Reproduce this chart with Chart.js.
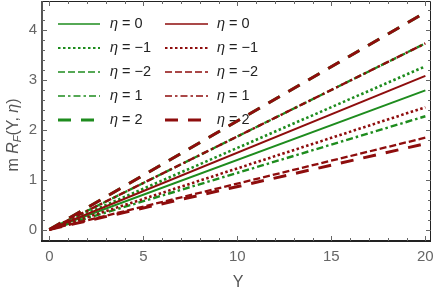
<!DOCTYPE html>
<html><head><meta charset="utf-8">
<script src="https://cdn.jsdelivr.net/npm/chart.js@4"></script>
<style>html,body{margin:0;padding:0;background:#fff}#c{display:block}</style></head>
<body>
<div style="width:436px;height:295px"><canvas id="c" width="436" height="295"></canvas></div>
<script>
// ---- data ----
const xValues = [0, 20];
const etaValues = ['0', '−1', '−2', '1', '2'];
const greenEnd = [2.79, 3.27, 3.73, 2.27, 4.35];
const redEnd   = [3.08, 2.45, 1.84, 3.73, 4.35];
const extraRedEnd = [1.72];
const xTicks = [0, 5, 10, 15, 20];
const yTicks = [0, 1, 2, 3, 4];
const xMinor = [1,2,3,4,6,7,8,9,11,12,13,14,16,17,18,19];
const yMinor = [0.2,0.4,0.6,0.8,1.2,1.4,1.6,1.8,2.2,2.4,2.6,2.8,3.2,3.4,3.6,3.8,4.2,4.4];

const GREEN = '#1e8c1e', RED = '#8e0d0d';
const styles = [
  {dash: [], w: 2, lw: 1.4},
  {dash: [2.5, 2.5], w: 2.6, lw: 1.8},
  {dash: [7, 3], w: 2.3, lw: 1.5},
  {dash: [7, 3, 2.5, 3], w: 2.4, lw: 1.6},
  {dash: [13, 10], w: 3, lw: 2.8}
];
function ds(color, i, end, label) {
  return {
    label: label, data: xValues.map((x, k) => ({x: x, y: k === 0 ? 0 : end})),
    borderColor: color, borderWidth: styles[i].w, borderDash: styles[i].dash,
    pointRadius: 0, fill: false, tension: 0
  };
}
const datasets = [];
redEnd.forEach((v, i) => datasets.push(ds(RED, i, v, 'η = ' + etaValues[i])));
extraRedEnd.forEach(v => datasets.push(ds(RED, 4, v, '')));
greenEnd.forEach((v, i) => datasets.push(ds(GREEN, i, v, 'η = ' + etaValues[i])));

function etaText(ctx, x, y, val, size) {
  ctx.fillStyle = '#222';
  ctx.textBaseline = 'middle'; ctx.textAlign = 'left';
  ctx.font = 'italic ' + size + 'px "Liberation Sans", Arial, sans-serif';
  ctx.fillText('η', x, y);
  const w = ctx.measureText('η').width;
  ctx.font = size + 'px "Liberation Sans", Arial, sans-serif';
  ctx.fillText(' = ' + val, x + w, y);
}

const customPlugin = {
  id: 'custom',
  beforeDatasetsDraw(chart) {
    const ctx = chart.ctx;
    ctx.save();
    const rows = [24, 48, 72, 96, 120];
    const cols = [{x0: 58, x1: 100, tx: 110, color: GREEN}, {x0: 165, x1: 208, tx: 217, color: RED}];
    cols.forEach(c => {
      etaValues.forEach((v, i) => {
        ctx.beginPath();
        ctx.strokeStyle = c.color; ctx.lineWidth = styles[i].lw;
        ctx.setLineDash(styles[i].dash);
        ctx.moveTo(c.x0, rows[i]); ctx.lineTo(c.x1, rows[i]); ctx.stroke();
        ctx.setLineDash([]);
        etaText(ctx, c.tx, rows[i], v, 14.5);
      });
    });
    ctx.restore();
  },
  afterDraw(chart) {
    const ctx = chart.ctx, xs = chart.scales.x, ys = chart.scales.y, a = chart.chartArea;
    ctx.save();
    // frame
    ctx.strokeStyle = '#222'; ctx.lineWidth = 1;
    ctx.beginPath();
    ctx.moveTo(a.left, a.top + 0.5); ctx.lineTo(a.right - 0.5, a.top + 0.5);
    ctx.lineTo(a.right - 0.5, a.bottom); ctx.stroke();
    ctx.strokeStyle = '#555'; ctx.lineWidth = 2;
    ctx.beginPath(); ctx.moveTo(a.left, a.top); ctx.lineTo(a.left, a.bottom + 1); ctx.stroke();
    ctx.strokeStyle = '#222'; ctx.lineWidth = 2;
    ctx.beginPath(); ctx.moveTo(a.left - 1, a.bottom); ctx.lineTo(a.right, a.bottom); ctx.stroke();
    // ticks
    ctx.lineWidth = 1; ctx.strokeStyle = '#666';
    function tick(x0, y0, x1, y1) { ctx.beginPath(); ctx.moveTo(x0, y0); ctx.lineTo(x1, y1); ctx.stroke(); }
    xTicks.forEach(v => { const p = Math.round(xs.getPixelForValue(v)) + 0.5;
      tick(p, a.bottom, p, a.bottom - 5); tick(p, a.top, p, a.top + 5); });
    xMinor.forEach(v => { const p = Math.round(xs.getPixelForValue(v)) + 0.5;
      tick(p, a.bottom, p, a.bottom - 3); tick(p, a.top, p, a.top + 3); });
    yTicks.forEach(v => { const p = Math.round(ys.getPixelForValue(v)) + 0.5;
      tick(a.left, p, a.left + 5, p); tick(a.right, p, a.right - 5, p); });
    yMinor.forEach(v => { const p = Math.round(ys.getPixelForValue(v)) + 0.5;
      tick(a.left, p, a.left + 3, p); tick(a.right, p, a.right - 3, p); });
    // tick labels
    ctx.fillStyle = '#666';
    ctx.font = '15px "Liberation Sans", Arial, sans-serif';
    ctx.textAlign = 'center'; ctx.textBaseline = 'middle';
    xTicks.forEach(v => ctx.fillText(String(v), xs.getPixelForValue(v), 257));
    ctx.textAlign = 'right';
    yTicks.forEach(v => ctx.fillText(String(v), 37, ys.getPixelForValue(v)));
    // x title
    ctx.fillStyle = '#555';
    ctx.font = '16px "Liberation Sans", Arial, sans-serif';
    ctx.textAlign = 'center';
    ctx.fillText('Y', 238, 283);
    // y title
    ctx.translate(14, 135); ctx.rotate(-Math.PI / 2);
    const reg = '16px "Liberation Sans", Arial, sans-serif';
    const it = 'italic 16px "Liberation Sans", Arial, sans-serif';
    const sub = 'italic 11px "Liberation Sans", Arial, sans-serif';
    const parts = [['m ', reg, 0], ['R', it, 0], ['F', sub, 4], ['(Y, ', reg, 0], ['η', it, 0], [')', reg, 0]];
    let tot = 0;
    parts.forEach(p => { ctx.font = p[1]; tot += ctx.measureText(p[0]).width; });
    let cx = -tot / 2;
    ctx.textAlign = 'left';
    parts.forEach(p => { ctx.font = p[1]; ctx.fillText(p[0], cx, p[2]); cx += ctx.measureText(p[0]).width; });
    ctx.restore();
  }
};

new Chart(document.getElementById('c'), {
  type: 'line',
  data: {datasets: datasets},
  options: {
    responsive: false, animation: false, devicePixelRatio: 1,
    layout: {padding: {left: 42, right: 5, top: 1, bottom: 54}},
    plugins: {legend: {display: false}, tooltip: {enabled: false}},
    scales: {
      x: {type: 'linear', min: -0.39, max: 20.3, display: false},
      y: {type: 'linear', min: -0.23, max: 4.58, display: false}
    }
  },
  plugins: [customPlugin]
});
</script>
</body></html>
